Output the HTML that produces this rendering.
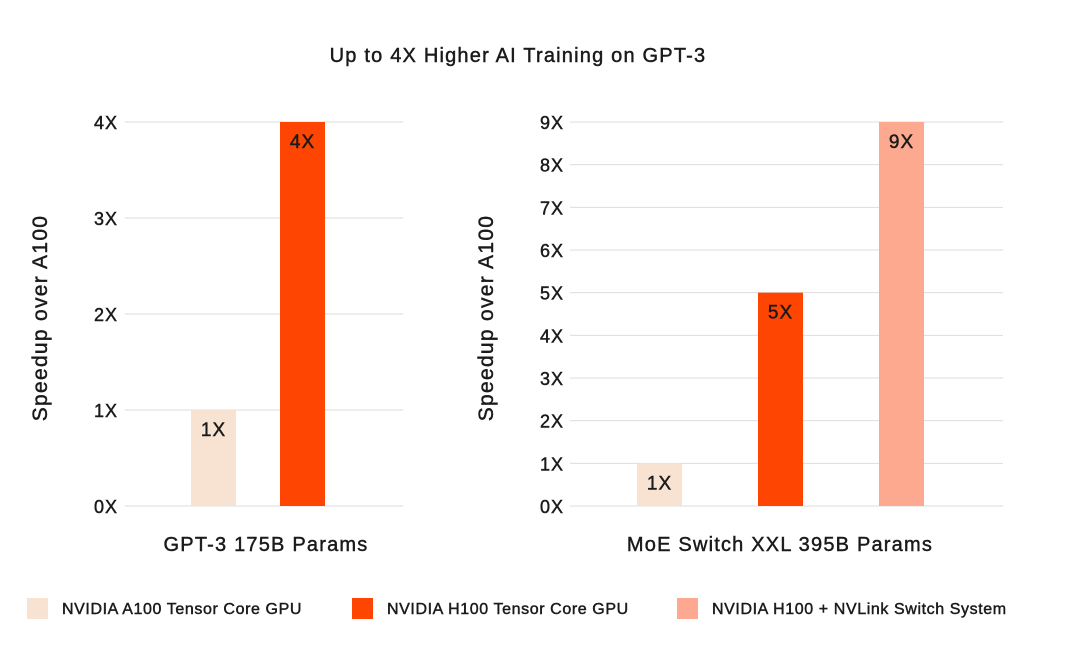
<!DOCTYPE html>
<html><head><meta charset="utf-8"><style>
body{margin:0;background:#fff;}
svg text{font-family:"Liberation Sans",sans-serif;fill:#1a1a1a;stroke:#1a1a1a;stroke-width:0.45;}
</style></head><body>
<svg id="c" width="1080" height="651">
<text x="518" y="62" text-anchor="middle" font-size="20" letter-spacing="1.2">Up to 4X Higher AI Training on GPT-3</text>
</svg>
<script>
const leftCategories=["NVIDIA A100 Tensor Core GPU","NVIDIA H100 Tensor Core GPU"];
const leftValues=[1,4];
const leftTicks=[0,1,2,3,4];
const rightCategories=["NVIDIA A100 Tensor Core GPU","NVIDIA H100 Tensor Core GPU","NVIDIA H100 + NVLink Switch System"];
const rightValues=[1,5,9];
const rightTicks=[0,1,2,3,4,5,6,7,8,9];
const colors=["#f8e3d3","#fe4502","#fda990"];
const svg=document.getElementById('c');
const NS='http://www.w3.org/2000/svg';
function mk(t,a,txt){const e=document.createElementNS(NS,t);for(const k in a)e.setAttribute(k,a[k]);if(txt!==undefined)e.textContent=txt;svg.appendChild(e);return e;}
function panel(opt){
  const y0=506,y1=122,max=opt.ticks[opt.ticks.length-1];
  const ys=v=>y0-(v/max)*(y0-y1);
  opt.ticks.forEach(t=>{
    const g=mk('line',{x1:opt.gx0,x2:opt.gx1,y1:ys(t),y2:ys(t),stroke:'#ddd','stroke-width':1});
    
    
    const l=mk('text',{x:opt.lx,y:ys(t)+7,'text-anchor':'end','font-size':18,'letter-spacing':1},t+'X');
    
    
  });
  opt.values.forEach((v,i)=>{
    const x=opt.bx0+i*opt.step;
    const b=mk('rect',{x:x,y:ys(v),width:45,height:y0-ys(v),fill:colors[i]});
    
    
    const t=mk('text',{x:x+22.5,y:ys(v)+26,'text-anchor':'middle','font-size':19,'letter-spacing':1},v+'X');
    
    
  });
  const yt=mk('text',{x:0,y:0,'text-anchor':'middle','font-size':21,'letter-spacing':1.3,transform:`translate(${opt.tx},318) rotate(-90)`},'Speedup over A100');
  
  
  const xl=mk('text',{x:opt.xc,y:551,'text-anchor':'middle','font-size':20,'letter-spacing':1.2},opt.label);
  
  
}
panel({id:'left',values:leftValues,ticks:leftTicks,gx0:125,gx1:403,lx:118,bx0:191,step:89,tx:47,xc:266,label:'GPT-3 175B Params'});
panel({id:'right',values:rightValues,ticks:rightTicks,gx0:570,gx1:1003,lx:564,bx0:637,step:121,tx:493,xc:780,label:'MoE Switch XXL 395B Params'});
const lx=[27,352,677];
rightCategories.forEach((c,i)=>{
  const s=mk('rect',{x:lx[i],y:598,width:21,height:21,fill:colors[i]});
  
  
  const t=mk('text',{x:lx[i]+35,y:614,'font-size':16,'letter-spacing':0.6},c);
  
  
});
</script>
</body></html>
